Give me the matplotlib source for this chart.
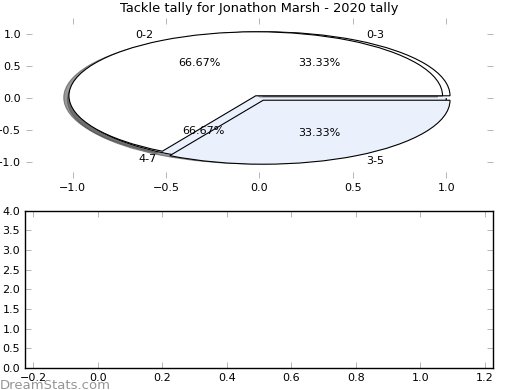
import numpy as np
import matplotlib
matplotlib.use("Agg")
import matplotlib.pyplot as plt
from matplotlib.patches import Shadow, Rectangle, Arc

title = "Tackle tally for Jonathon Marsh - 2020 tally"

# first pie (drawn underneath, clockwise)
labels_b = ["4-7", "0-3"]
values_b = [2, 1]
# second pie (drawn on top, counter-clockwise)
labels_a = ["0-2", "3-5"]
values_a = [2, 1]

blue = "#eaf0fc"

plt.rcParams["font.size"] = 8
fig = plt.figure(figsize=(5.2, 3.9), dpi=100)

ax1 = fig.add_axes([0.05, 0.5436, 0.898, 0.4102])
wb, _, _ = ax1.pie(values_b, labels=labels_b, colors=[blue, "white"], explode=[0, 0.04],
                   autopct="%1.2f%%", counterclock=False, startangle=0, shadow=True,
                   wedgeprops={"edgecolor": "black", "linewidth": 0.8},
                   textprops={"fontsize": 8})
# big under-wedge: outline only along its rim
w = wb[0]
w.set_edgecolor(blue)
ax1.add_patch(Arc(w.center, 2 * w.r, 2 * w.r, theta1=w.theta1, theta2=w.theta2,
                  color="black", linewidth=0.8, zorder=1))

wa, _, _ = ax1.pie(values_a, labels=labels_a, colors=["white", blue], explode=[0.04, 0.04],
                   autopct="%1.2f%%", startangle=0, shadow=True,
                   wedgeprops={"edgecolor": "black", "linewidth": 0.8},
                   textprops={"fontsize": 8})
for p in wa:
    p.set_zorder(1.5)

# shadows go under every wedge and only show on the left rim
clip = Rectangle((0, 0), 0.48, 1, transform=ax1.transAxes, visible=False)
ax1.add_artist(clip)
shadows = [p for p in ax1.patches if isinstance(p, Shadow)]
for i, p in enumerate(shadows):
    p.set_zorder(0.5)
    p.set_facecolor("#555555")
    p.set_alpha(0.6)
    if i in (1, 3):
        p.set_visible(False)
    else:
        p.set_clip_path(clip)

ax1.set_aspect("auto")
ax1.set_frame_on(False)
ax1.set_xlim(-1.25, 1.25)
ax1.set_ylim(-1.25, 1.25)
ax1.set_xticks([-1.0, -0.5, 0.0, 0.5, 1.0])
ax1.set_yticks([-1.0, -0.5, 0.0, 0.5, 1.0])
ax1.tick_params(direction="in", top=True, right=True, length=4, width=0.5,
                color="#999999", labelsize=8)
ax1.set_title(title, fontsize=9.4, pad=4)

ax2 = fig.add_axes([0.048, 0.0564, 0.9, 0.4036])
ax2.set_xlim(-0.225, 1.225)
ax2.set_ylim(0, 4)
ax2.set_xticks([-0.2, 0.0, 0.2, 0.4, 0.6, 0.8, 1.0, 1.2])
ax2.set_yticks(np.arange(0, 4.01, 0.5))
ax2.tick_params(direction="in", top=True, right=True, length=4, width=0.5,
                color="#999999", labelsize=8)
for s in ax2.spines.values():
    s.set_linewidth(1.0)

fig.text(0.0, 0.002, "DreamStats.com", fontsize=9.5, color="#8a8a8a", alpha=0.9)

plt.savefig("out.png")
